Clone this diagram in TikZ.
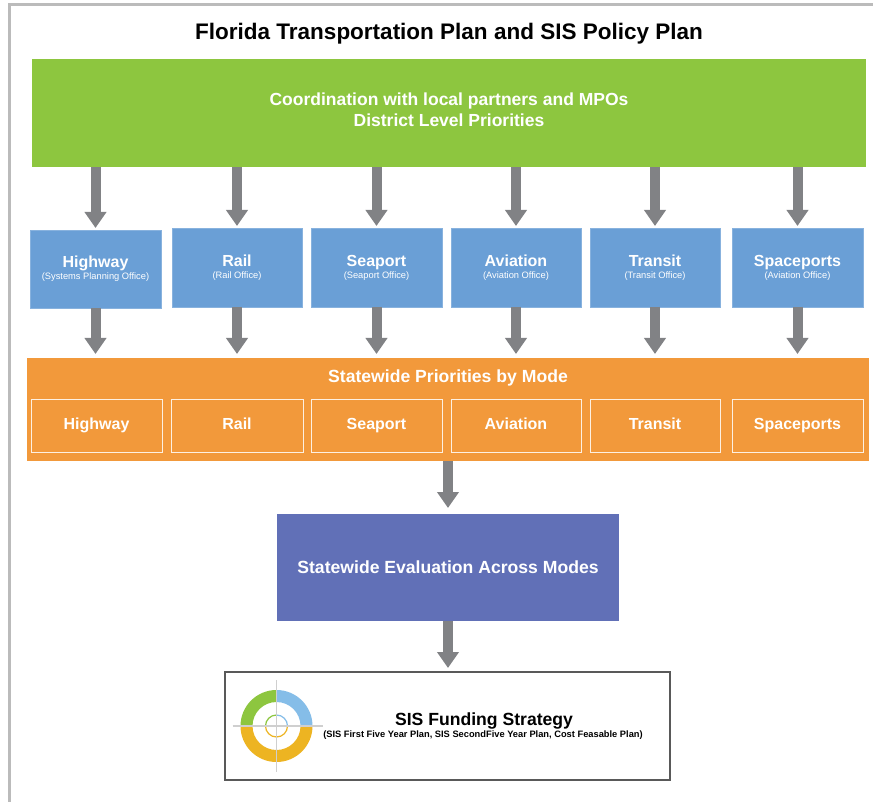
\documentclass[tikz,border=0pt]{standalone}
\usepackage{fontspec}
\setmainfont{Liberation Sans}
\usetikzlibrary{arrows.meta,calc}
\definecolor{cgreen}{HTML}{8DC63F}
\definecolor{cblue}{HTML}{6A9FD6}
\definecolor{corange}{HTML}{F2993B}
\definecolor{cpurple}{HTML}{6170B7}
\definecolor{carrow}{HTML}{818285}
\definecolor{clblue}{HTML}{85BDE8}
\definecolor{cyellow}{HTML}{EDB422}
\definecolor{cframe}{HTML}{BBBBBB}
\definecolor{ccross}{HTML}{CFCFCF}
\newcommand{\bt}[2]{{\bfseries\fontsize{16}{17}\selectfont #1}\\[0pt]{\fontsize{9.3}{10}\selectfont #2}}
\tikzset{
  box/.style={anchor=north west, inner sep=0pt, outer sep=0pt, text=white, align=center},
  bluebox/.style={box, fill=cblue, draw=cblue!80!white, line width=0.6pt},
  innerbox/.style={box, draw=white!85!corange, line width=1pt, font=\bfseries\fontsize{16}{18}\selectfont, text height=11.5pt, text depth=3.5pt},
  flow/.style={draw=carrow, line width=10pt, -{Triangle[width=21pt,length=16pt]}, shorten >=2pt},
  ttl/.style={font=\bfseries\fontsize{17.6}{20}\selectfont},
}
\begin{document}
\begin{tikzpicture}[x=1pt,y=-1pt]
\useasboundingbox (0,0) rectangle (873,802);
% frame
\draw[cframe, line width=2.5pt] (9.5,802) -- (9.5,4.5) -- (873,4.5);
% title
\node[font=\bfseries\fontsize{22.5}{26}\selectfont] (title) at (449,33.5) {Florida Transportation Plan and SIS Policy Plan};
% green
\node[box, fill=cgreen, minimum width=834pt, minimum height=108pt] (green) at (32,59) {};
\node[text=white, align=center, font=\bfseries\fontsize{17.5}{21}\selectfont] (greentxt) at (449,109.5) {Coordination with local partners and MPOs\\District Level Priorities};
% blue boxes
\node[bluebox, minimum width=131pt, minimum height=78pt] (b1) at (30,230) {\bt{Highway}{(Systems Planning Office)}};
\node[bluebox, minimum width=130pt, minimum height=79pt] (b2) at (172,228) {\bt{Rail}{(Rail Office)}};
\node[bluebox, minimum width=131pt, minimum height=79pt] (b3) at (311,228) {\bt{Seaport}{(Seaport Office)}};
\node[bluebox, minimum width=130pt, minimum height=79pt] (b4) at (451,228) {\bt{Aviation}{(Aviation Office)}};
\node[bluebox, minimum width=130pt, minimum height=79pt] (b5) at (590,228) {\bt{Transit}{(Transit Office)}};
\node[bluebox, minimum width=131pt, minimum height=79pt] (b6) at (732,228) {\bt{Spaceports}{(Aviation Office)}};
% orange
\node[box, fill=corange, minimum width=842pt, minimum height=103pt] (orange) at (27,358) {};
\node[ttl, text=white] (orangetxt) at (448,378) {Statewide Priorities by Mode};
\node[innerbox, minimum width=131pt, minimum height=53pt] (o1) at (31,399) {Highway};
\node[innerbox, minimum width=132pt, minimum height=53pt] (o2) at (171,399) {Rail};
\node[innerbox, minimum width=131pt, minimum height=53pt] (o3) at (311,399) {Seaport};
\node[innerbox, minimum width=130pt, minimum height=53pt] (o4) at (451,399) {Aviation};
\node[innerbox, minimum width=130pt, minimum height=53pt] (o5) at (590,399) {Transit};
\node[innerbox, minimum width=131pt, minimum height=53pt] (o6) at (732,399) {Spaceports};
% purple
\node[box, ttl, fill=cpurple, minimum width=342pt, minimum height=107pt] (purple) at (277,514) {Statewide Evaluation Across Modes};
% final box
\node[box, draw=black!65, line width=1.5pt, fill=white, minimum width=445pt, minimum height=108pt] (final) at (225,672) {};
\node[ttl] (fintitle) at (484,721) {SIS Funding Strategy};
\node[font=\bfseries\fontsize{9.3}{10}\selectfont] (finsub) at (483,735) {(SIS First Five Year Plan, SIS SecondFive Year Plan, Cost Feasable Plan)};
% arrows
\foreach \b in {b1,b2,b3,b4,b5,b6}{
  \draw[flow] (green.south -| \b.north) -- (\b.north);
  \draw[flow, shorten >=4pt] (\b.south) -- (orange.north -| \b.south);
}
\draw[flow, shorten >=6pt] (orange.south -| purple.north) -- (purple.north);
\draw[flow, shorten >=4pt] (purple.south) -- (final.north -| purple.south);
% icon
\coordinate (ic) at (276.5,726);
\fill[cgreen] ($(ic)+(180:36)$) arc[start angle=180,end angle=270,radius=36] -- ($(ic)+(270:24)$) arc[start angle=270,end angle=180,radius=24] -- cycle;
\fill[clblue] ($(ic)+(270:36)$) arc[start angle=270,end angle=360,radius=36] -- ($(ic)+(0:24)$) arc[start angle=360,end angle=270,radius=24] -- cycle;
\fill[cyellow] ($(ic)+(0:36)$) arc[start angle=0,end angle=180,radius=36] -- ($(ic)+(180:24)$) arc[start angle=180,end angle=0,radius=24] -- cycle;
\draw[cgreen, line width=1.2pt] ($(ic)+(180:11)$) arc[start angle=180,end angle=270,radius=11];
\draw[clblue, line width=1.2pt] ($(ic)+(270:11)$) arc[start angle=270,end angle=360,radius=11];
\draw[cyellow, line width=1.2pt] ($(ic)+(0:11)$) arc[start angle=0,end angle=180,radius=11];
\draw[ccross, line width=1.5pt] ($(ic)+(-44,0)$) -- ($(ic)+(46,0)$);
\draw[ccross, line width=1.5pt] ($(ic)+(0,-46)$) -- ($(ic)+(0,46)$);
\end{tikzpicture}
\end{document}
